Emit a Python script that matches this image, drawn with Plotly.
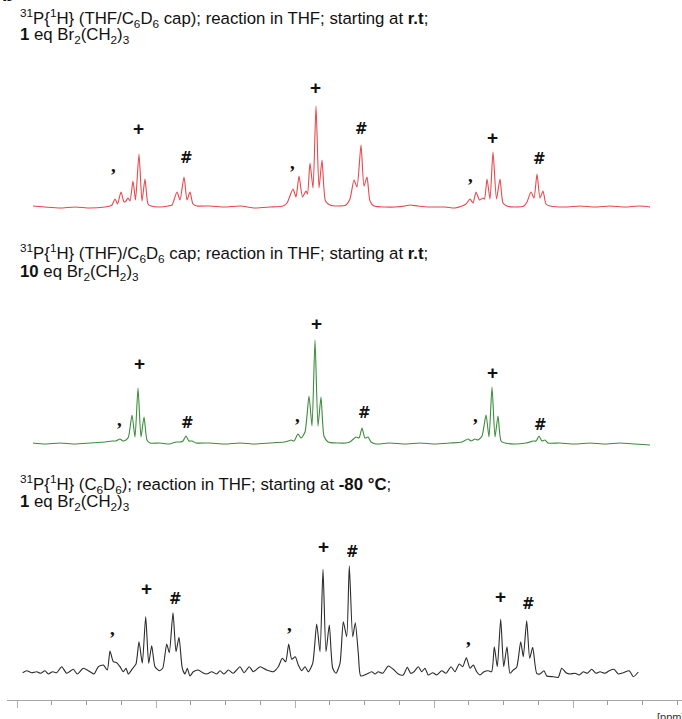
import plotly.graph_objects as go

# ---------------------------------------------------------------------------
# 31P{1H} spectra (chemical shift in ppm, intensity in arbitrary units)
# ---------------------------------------------------------------------------

# Spectrum 1: THF/C6D6 cap, reaction in THF from r.t., 1 eq Br2(CH2)3
shift_rt_1eq = [
    54.0, 52.8, 51.3, 49.8, 48.3, 46.8, 46.3, 46.1, 45.8, 45.55, 45.2, 44.9, 44.7,
    44.5, 44.3, 44.0, 43.75, 43.4, 43.1, 42.8, 42.5, 42.2, 41.3, 40.5, 40.1, 39.6,
    39.3, 38.9, 38.6, 38.3, 38.0, 37.6, 36.3, 34.8, 33.3, 31.8, 30.3, 29.0, 28.6,
    28.0, 27.7, 27.4, 27.05, 26.7, 26.55, 26.3, 26.0, 25.7, 25.4, 25.1, 24.75, 24.3,
    23.5, 22.7, 22.3, 21.9, 21.6, 21.2, 20.9, 20.6, 20.3, 19.9, 18.8, 17.8, 16.8,
    16.3, 15.5, 14.3, 12.8, 11.8, 11.1, 10.7, 10.3, 10.0, 9.7, 9.35, 9.0, 8.85,
    8.6, 8.3, 8.0, 7.65, 7.3, 7.0, 6.6, 5.8, 4.9, 4.6, 4.2, 3.9, 3.6, 3.3, 3.0,
    2.7, 2.3, 0.8, -0.7, -2.2, -3.7, -5.2, -6.7, -7.7,
]
intensity_rt_1eq = [
    1, 0, -1, 0, -1, 0, 1, 2, 8, 3, 15, 5, 6,
    9, 6, 26, 7, 53, 6, 28, 3, 1, 0, 1, 2, 15,
    7, 30, 7, 15, 3, 1, 1, 0, 1, -1, 0, 1, 4,
    18, 10, 31, 10, 16, 13, 44, 19, 101, 19, 47, 6, 2,
    1, 2, 8, 27, 20, 62, 21, 30, 6, 1, 0, 0, 1,
    2, 1, 0, 0, -1, 1, 3, 8, 4, 15, 7, 9, 8,
    28, 8, 55, 8, 28, 4, 1, 0, 1, 5, 15, 9, 33, 9, 16,
    3, 1, 0, 1, 0, 1, 0, 1, 0,
]

# Spectrum 2: THF/C6D6 cap, reaction in THF from r.t., 10 eq Br2(CH2)3
shift_rt_10eq = [
    54.0, 52.8, 51.3, 49.8, 48.3, 46.8, 46.1, 45.7, 45.3, 45.0, 44.7, 44.45, 44.1,
    43.8, 43.5, 43.2, 42.9, 42.6, 42.3, 41.3, 40.3, 39.7, 39.3, 39.0, 38.7, 38.4,
    38.1, 37.7, 36.3, 34.8, 33.3, 31.8, 30.3, 28.9, 28.5, 28.2, 27.9, 27.5, 27.2,
    26.8, 26.4, 26.1, 25.8, 25.5, 25.2, 24.9, 24.5, 23.5, 22.7, 22.3, 21.7, 21.4,
    21.1, 20.8, 20.5, 20.2, 19.7, 18.3, 16.8, 15.3, 13.8, 12.3, 11.1, 10.5, 10.2,
    9.8, 9.5, 9.1, 8.7, 8.4, 8.1, 7.8, 7.5, 7.2, 6.8, 5.8, 4.7, 4.3, 4.0, 3.7,
    3.4, 3.1, 2.8, 2.5, 1.3, -0.2, -1.7, -3.2, -4.7, -6.2, -7.7,
]
intensity_rt_10eq = [
    1, 0, 1, 0, 1, 2, 3, 3, 5, 3, 4, 7, 29,
    7, 56, 7, 27, 4, 1, 1, 0, 2, 2, 3, 8, 3,
    3, 1, 1, 0, 1, 0, 1, 2, 3, 4, 3, 10, 6,
    12, 48, 18, 104, 18, 47, 8, 2, 1, 1, 2, 7, 6,
    16, 6, 7, 2, 0, 1, 0, 1, 0, 1, 2, 5, 3,
    5, 4, 8, 29, 7, 57, 7, 28, 3, 1, 0, 1, 2, 3, 3,
    8, 3, 4, 1, 1, 0, 1, 0, 1, 0, -1,
]

# Spectrum 3: C6D6, reaction in THF from -80 °C, 1 eq Br2(CH2)3
shift_cold_1eq = [
    55.03, 54.63, 54.13, 53.63, 53.23, 52.8, 52.47, 52.03, 51.63, 51.13, 50.63,
    49.97, 49.57, 48.97, 48.3, 47.9, 47.47, 46.97, 46.57, 46.3, 45.97, 45.63,
    45.3, 44.97, 44.7, 44.47, 44.03, 43.7, 43.4, 43.07, 42.73, 42.43, 42.13,
    41.8, 41.37, 41.03, 40.63, 40.37, 40.0, 39.7, 39.4, 39.07, 38.8, 38.57,
    38.3, 37.97, 37.47, 37.03, 36.63, 36.13, 35.63, 35.3, 34.9, 34.47, 33.97,
    33.3, 32.9, 32.37, 31.97, 31.3, 30.63, 29.97, 29.47, 29.07, 28.73, 28.43,
    28.13, 27.77, 27.47, 27.13, 26.8, 26.47, 26.03, 25.63, 25.3, 25.0, 24.7,
    24.37, 24.03, 23.7, 23.3, 22.97, 22.63, 22.37, 22.03, 21.77, 21.47, 21.23,
    20.63, 20.13, 19.8, 19.47, 19.03, 18.47, 17.97, 17.47, 16.97, 16.57, 16.23,
    15.9, 15.47, 15.13, 14.8, 14.47, 14.03, 13.63, 13.13, 12.7, 12.2, 11.8,
    11.37, 11.03, 10.67, 10.3, 9.97, 9.63, 9.3, 8.9, 8.47, 8.13, 7.87, 7.57,
    7.23, 6.93, 6.6, 6.3, 5.97, 5.63, 5.23, 4.97, 4.63, 4.33, 4.03, 3.63, 3.3,
    2.9, 2.63, 1.97, 1.47, 1.13, 0.7, 0.3, -0.2, -0.63, -1.03, -1.43, -1.87,
    -2.3, -2.7, -3.2, -3.63, -4.1, -4.53, -5.03, -5.63, -6.03, -6.53,
]
intensity_cold_1eq = [
    0.3, 2.3, 0.3, 1.3, -0.3, 2.3, -1, 1.3, 0.3, 6.3, -0.3,
    3.7, -1, 4.7, 1.3, -1, 6.3, 8, 3, 22, 11.3, 10.3,
    6.3, 1.3, 4.7, -1, 4.7, 9, 31.3, 9.7, 56.3, 9.7, 27.3,
    6.3, 2.3, 4.7, 29, 20.3, 60.3, 21.3, 35.7, 4.7, -1, 4.7,
    -3, 1.3, 3, 0.3, -1, 1.3, -1, 2.3, -1, 3, -0.3,
    6.3, 0.3, 6.3, 1.3, 6.3, 3, 1.3, 6.3, 14.7, 11.3, 29,
    13.7, 16.3, 8, 2.3, 6.3, 1.3, 9.7, 49, 21.3, 103.7, 21.3,
    48, 4.7, -0.3, 9.7, 51.3, 36.3, 107.3, 36.3, 50.3, 19.7, -3,
    -1, 1.3, -1, 1.3, -0.3, 7, 3.7, -1, -2, 5.7, -0.3,
    1.3, 6.3, 1.3, 4.7, -2, 0.3, -2, 2.3, -0.3, 6.3, 1.3,
    9, 6.3, 15.3, 4.7, 8, 1.3, -2, 1.3, 2.3, 1.3, 26.3, 6.3,
    53.7, 6.3, 26.3, -0.3, 3, 5.7, 31.3, 16.3, 52.3, 14.7, 25.7, -0.3, -1,
    2.3, -3, -3.7, -4.3, 4.7, 0.3, -1, -0.3, -2, 1.3, -0.3, 3.7,
    -0.3, 1.3, -0.3, 2.3, 3.7, -1, 0.3, 2.3, -3.7, 1,
]

# Signal assignment marks placed over each multiplet
mark_text = [",", "+", "#", ",", "+", "#", ",", "+", "#"]
mark_shift_rt_1eq = [46.0, 43.5, 38.7, 28.1, 25.8, 21.2, 10.3, 8.1, 3.4]
mark_level_rt_1eq = [37, 79, 49, 40, 120, 78, 27, 70, 48]
mark_shift_rt_10eq = [45.4, 43.4, 38.6, 27.6, 25.7, 20.9, 9.8, 8.1, 3.3]
mark_level_rt_10eq = [20, 81, 21, 24, 121, 31, 24, 72, 19]
mark_shift_cold_1eq = [46.1, 42.7, 39.8, 28.4, 25.0, 22.1, 10.5, 7.3, 4.5]
mark_level_cold_1eq = [40, 85, 74, 44, 127, 121, 30, 77, 69]

# Spectrum captions (first and second line)
title_line1 = [
    "<sup>31</sup>P{<sup>1</sup>H} (THF/C<sub>6</sub>D<sub>6</sub> cap); reaction in THF; "
    "starting at <b>r.t</b>;",
    "<sup>31</sup>P{<sup>1</sup>H} (THF)/C<sub>6</sub>D<sub>6</sub> cap; reaction in THF; "
    "starting at <b>r.t</b>;",
    "<sup>31</sup>P{<sup>1</sup>H} (C<sub>6</sub>D<sub>6</sub>); reaction in THF; "
    "starting at <b>-80 °C</b>;",
]
title_line2 = [
    "<b>1</b> eq Br<sub>2</sub>(CH<sub>2</sub>)<sub>3</sub>",
    "<b>10</b> eq Br<sub>2</sub>(CH<sub>2</sub>)<sub>3</sub>",
    "<b>1</b> eq Br<sub>2</sub>(CH<sub>2</sub>)<sub>3</sub>",
]

# ---------------------------------------------------------------------------
W, H = 682, 719
TEXT_FONT = "Liberation Sans, Arial, sans-serif"


def py(px):
    """Convert a pixel row (from the top) into paper coordinates."""
    return 1 - px / H


spectra = [
    (shift_rt_1eq, intensity_rt_1eq, "#e8474b", "y", mark_shift_rt_1eq, mark_level_rt_1eq),
    (shift_rt_10eq, intensity_rt_10eq, "#3d8c3d", "y2", mark_shift_rt_10eq, mark_level_rt_10eq),
    (shift_cold_1eq, intensity_cold_1eq, "#2b2b2b", "y3", mark_shift_cold_1eq, mark_level_cold_1eq),
]

mark_style = {
    "+": dict(family=TEXT_FONT, size=19, shift=0),
    "#": dict(family="DejaVu Sans, sans-serif", size=15, shift=0),
    ",": dict(family="Liberation Serif, Times New Roman, serif", size=19, shift=5),
}

fig = go.Figure()
annotations = []
for xs, ys, color, yax, mx, my in spectra:
    fig.add_trace(go.Scatter(
        x=xs, y=ys, mode="lines", xaxis="x", yaxis=yax,
        line=dict(color=color, width=1.1, shape="spline", smoothing=0.6),
        hoverinfo="skip", showlegend=False,
    ))
    for t, sx, lv in zip(mark_text, mx, my):
        st = mark_style[t]
        annotations.append(dict(
            x=sx, y=lv, xref="x", yref=yax, text=f"<b>{t}</b>", showarrow=False,
            xanchor="center", yanchor="middle", yshift=st["shift"],
            font=dict(family=st["family"], size=st["size"], color="#111111"),
        ))

# caption lines: (top of line 1, top of line 2) in pixels
title_rows = [(4, 23), (239, 260), (470, 490)]
for l1, l2, (t1, t2) in zip(title_line1, title_line2, title_rows):
    for txt, top in ((l1, t1), (l2, t2)):
        annotations.append(dict(
            x=18 / W, y=py(top), xref="paper", yref="paper", xanchor="left", yanchor="top",
            text=txt, showarrow=False, align="left",
            font=dict(family=TEXT_FONT, size=16.8, color="#111111"),
        ))

# unit label at the right end of the shift axis
annotations.append(dict(
    x=655 / W, y=py(709), xref="paper", yref="paper", xanchor="left", yanchor="top",
    text="[ppm]", showarrow=False,
    font=dict(family=TEXT_FONT, size=11, color="#333333"),
))
# panel letter (top edge)
annotations.append(dict(
    x=0, y=py(7), xref="paper", yref="paper", xanchor="left", yanchor="bottom",
    text="<b>b</b>", showarrow=False,
    font=dict(family=TEXT_FONT, size=20, color="#111111"),
))

yax_common = dict(visible=False, range=[-8, 132], fixedrange=True)
fig.update_layout(
    width=W, height=H,
    margin=dict(l=0, r=0, t=0, b=0),
    paper_bgcolor="white", plot_bgcolor="rgba(0,0,0,0)",
    showlegend=False,
    xaxis=dict(
        domain=[7 / W, 1], range=[56.6, -10.9], anchor="free", position=py(700),
        showline=True, linecolor="#a6a6a6", linewidth=1,
        ticks="outside", ticklen=7, tickwidth=1, tickcolor="#b0b0b0",
        tick0=0, dtick=13.9, showticklabels=False, showgrid=False, zeroline=False,
        minor=dict(ticks="outside", ticklen=4, tick0=0, dtick=3.475,
                   tickcolor="#9a9a9a", showgrid=False),
    ),
    yaxis=dict(domain=[py(215), py(75)], anchor="x", **yax_common),
    yaxis2=dict(domain=[py(452), py(312)], anchor="x", **yax_common),
    yaxis3=dict(domain=[py(681), py(541)], anchor="x", **yax_common),
    annotations=annotations,
)

fig.write_html("out.html")
